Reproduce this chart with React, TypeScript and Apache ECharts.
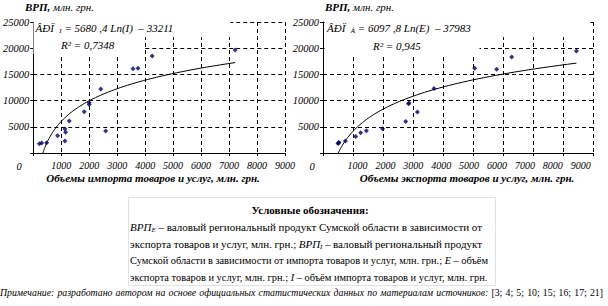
import React, { useEffect, useRef } from "react";
import * as echarts from "echarts";

const SERIF = "Liberation Serif";

// ---- data ----
// Left chart: GRP vs import of goods and services
const importVolume = [220, 302, 480, 872, 1133, 1157, 1133, 1288, 1822, 2000, 2000, 2590, 2413, 3566, 3744, 4253, 7217];
const grpImport = [1775, 1900, 1970, 3300, 4580, 3950, 2290, 6100, 7880, 9600, 9250, 4200, 12210, 16090, 16160, 18510, 19650];
// Right chart: GRP vs export of goods and services
const exportVolume = [500, 523, 530, 745, 1090, 1257, 1445, 1985, 2757, 3147, 2850, 2867, 3700, 5057, 5790, 6290, 8447];
const grpExport = [1800, 1950, 2020, 2280, 3160, 3870, 4250, 4620, 6020, 7810, 9390, 9560, 12300, 16190, 16000, 18340, 19480];

// trend line coefficients as printed on the chart: y = a*Ln(x) + b
const trendImport = { a: 5680.4, b: -33211 };
const trendExport = { a: 6097.8, b: -37983 };

const xTickLabels = [1000, 2000, 3000, 4000, 5000, 6000, 7000, 8000, 9000];
const yMax = 25000;
const yStep = 5000;
const xMax = 9000;
const xStep = 1000;

const yTitleBold = "ВРП,";
const yTitleRest = " млн. грн.";
const xTitleImport = "Объемы импорта товаров и услуг, млн. грн.";
const xTitleExport = "Объемы экспорта товаров и услуг, млн. грн.";
const eqImport = "ÂÐÏ  {sub|I} = 5680 ,4 Ln(I)  – 33211";
const eqExport = "ÂÐÏ  {sub|Å} = 6097 ,8 Ln(E)  – 37983";
const r2Import = "R² = 0,7348";
const r2Export = "R² = 0,945";

const legendTitle = "Условные обозначения:";
const legendLine1 = "{i|ВРП}{sub|E} – валовый региональный продукт Сумской области в зависимости от";
const legendLine2 = "экспорта товаров и услуг, млн. грн.; {i|ВРП}{sub|I} – валовый региональный продукт";
const legendLine3 = "Сумской области в зависимости от импорта товаров и услуг, млн. грн.; {i|E} – объём";
const legendLine4 = "экспорта товаров и услуг, млн. грн.; {i|I} – объём импорта товаров и услуг, млн. грн.";
const noteText = "Примечание: разработано автором на основе официальных статистических данных по материалам источников:";
const noteRefs = "[3; 4; 5; 10; 15; 16; 17; 21]";

// ---- helpers ----
type Base = { fontSize: number; fontStyle?: string; fontWeight?: string };

let measureCtx: CanvasRenderingContext2D | null = null;
function fontStr(s: Base) {
  return `${s.fontStyle || "normal"} ${s.fontWeight || "normal"} ${s.fontSize}px ${SERIF}`;
}
function measure(text: string, s: Base) {
  if (!measureCtx) measureCtx = document.createElement("canvas").getContext("2d");
  measureCtx!.font = fontStr(s);
  return measureCtx!.measureText(text).width;
}
function makeRich(base: Base) {
  const fs = base.fontSize;
  return {
    i: { fontFamily: SERIF, fontSize: fs, fontStyle: "italic", fontWeight: base.fontWeight || "normal", fill: "#000" },
    n: { fontFamily: SERIF, fontSize: fs, fontStyle: "normal", fontWeight: base.fontWeight || "normal", fill: "#000" },
    b: { fontFamily: SERIF, fontSize: fs, fontStyle: "italic", fontWeight: "bold", fill: "#000" },
    sub: {
      fontFamily: SERIF,
      fontSize: Math.round(fs * 0.65),
      fontStyle: "italic",
      fontWeight: "normal",
      fill: "#000",
      padding: [5, 0, 0, 0],
    },
  } as any;
}
function measureRich(text: string, base: Base, rich: any) {
  let w = 0;
  const re = /\{(\w+)\|([^}]*)\}|([^{]+)/g;
  let m: RegExpExecArray | null;
  while ((m = re.exec(text))) {
    if (m[1]) {
      const st = rich[m[1]];
      w += measure(m[2], { fontSize: st.fontSize, fontStyle: st.fontStyle, fontWeight: st.fontWeight });
    } else {
      w += measure(m[3], base);
    }
  }
  return w;
}
function textEl(text: string, x: number, y: number, base: Base, align = "left", z = 60) {
  return {
    type: "text",
    x,
    y,
    z,
    silent: true,
    style: {
      text,
      fontFamily: SERIF,
      fontSize: base.fontSize,
      fontStyle: base.fontStyle || "normal",
      fontWeight: base.fontWeight || "normal",
      fill: "#000",
      align,
      verticalAlign: "middle",
      rich: makeRich(base),
    },
  };
}
// lays words out on one line; justified between x0 and x1 when x1 is given
function lineEls(words: string[], x0: number, x1: number | null, y: number, base: Base) {
  const rich = makeRich(base);
  const widths = words.map((w) => measureRich(w, base, rich));
  const total = widths.reduce((a, b) => a + b, 0);
  const space = measure(" ", base);
  const gap =
    x1 == null || words.length < 2 ? space : Math.max(space * 0.5, (x1 - x0 - total) / (words.length - 1));
  let x = x0;
  return words.map((w, i) => {
    const el = textEl(w, x, y, base);
    x += widths[i] + gap;
    return el;
  });
}
function trendPoints(a: number, b: number, xs: number[]) {
  const x0 = Math.exp(-b / a);
  const x1 = Math.max(...xs);
  const n = 80;
  const pts: number[][] = [];
  for (let k = 0; k <= n; k++) {
    const x = x0 * Math.pow(x1 / x0, k / n);
    pts.push([x, a * Math.log(x) + b]);
  }
  return pts;
}
const zip = (xs: number[], ys: number[]) => xs.map((x, i) => [x, ys[i]]);

function buildOption() {
  const axisFont = { fontFamily: SERIF, fontStyle: "italic" as const, color: "#000" };
  const dashed = { show: true, lineStyle: { color: "#000", width: 1, type: [4, 3] as any } };
  const mkX = (grid: number, showLabel: boolean) => ({
    type: "value",
    gridIndex: grid,
    min: 0,
    max: xMax,
    interval: xStep,
    axisLine: { show: true, onZero: false, lineStyle: { color: "#000", width: 1 } },
    axisTick: { show: true, length: 3, lineStyle: { color: "#000" } },
    axisLabel: {
      show: showLabel,
      ...axisFont,
      fontSize: 10,
      margin: 7,
      formatter: (v: number) => (v === 0 ? "" : String(v)),
    },
    splitLine: dashed,
  });
  const mkY = (grid: number) => ({
    type: "value",
    gridIndex: grid,
    min: 0,
    max: yMax,
    interval: yStep,
    axisLine: { show: true, onZero: false, lineStyle: { color: "#000", width: 1 } },
    axisTick: { show: true, length: 3, lineStyle: { color: "#000" } },
    axisLabel: {
      ...axisFont,
      fontSize: 10.5,
      margin: 4,
      formatter: (v: number) => (v === 0 ? "" : String(v)),
    },
    splitLine: dashed,
  });

  const titleBase: Base = { fontSize: 11, fontStyle: "italic", fontWeight: "bold" };
  const eqBase: Base = { fontSize: 11, fontStyle: "italic" };
  const lgBase: Base = { fontSize: 11 };
  const lgBaseSmall: Base = { fontSize: 10.4 };
  const noteBase: Base = { fontSize: 9.8, fontStyle: "italic" };

  const noteWords = [
    ...noteText.split(" "),
    ...noteRefs.split(" ").map((w) => `{n|${w}}`),
  ];

  const whiteRect = (x: number, y: number, w: number, h: number) => ({
    type: "rect",
    z: 50,
    silent: true,
    shape: { x, y, width: w, height: h },
    style: { fill: "#fff" },
  });

  const graphic: any[] = [
    // label backgrounds of the trend equations
    whiteRect(33.5, 19, 197, 18),
    whiteRect(33.5, 37, 110, 17),
    whiteRect(324.5, 19, 266, 18),
    whiteRect(324.5, 37, 155, 17),
    textEl(eqImport, 35.5, 28, eqBase),
    textEl(r2Import, 61, 45, eqBase),
    textEl(eqExport, 327, 28, eqBase),
    textEl(r2Export, 373, 46, eqBase),
    // axis titles
    textEl(`{b|${yTitleBold}}{i|${yTitleRest}}`, 25, 7, { fontSize: 11, fontStyle: "italic" }),
    textEl(`{b|${yTitleBold}}{i|${yTitleRest}}`, 325, 7, { fontSize: 11, fontStyle: "italic" }),
    textEl(xTitleImport, 153, 178, titleBase, "center"),
    textEl(xTitleExport, 467, 178, titleBase, "center"),
    textEl("0", 19, 166, { fontSize: 10.5, fontStyle: "italic" }, "center"),
    textEl("0", 312, 166, { fontSize: 10.5, fontStyle: "italic" }, "center"),
    // legend box
    {
      type: "rect",
      z: 40,
      silent: true,
      shape: { x: 128.5, y: 197.5, width: 367, height: 88 },
      style: { fill: "none", stroke: "#e2e2e2", lineWidth: 1 },
    },
    textEl(legendTitle, 310, 210, { fontSize: 11, fontWeight: "bold" }, "center"),
    ...lineEls(legendLine1.split(" "), 130, 482, 227, lgBase),
    ...lineEls(legendLine2.split(" "), 130, 482, 244, lgBase),
    ...lineEls(legendLine3.split(" "), 130, 488, 260, lgBaseSmall),
    ...lineEls(legendLine4.split(" "), 130, null, 277, lgBaseSmall),
    ...lineEls(noteWords, 0, 603, 292, noteBase),
  ];

  const scatterStyle = { color: "#000066" };
  return {
    animation: false,
    backgroundColor: "#fff",
    textStyle: { fontFamily: SERIF },
    grid: [
      { left: 32, top: 22, width: 253, height: 131 },
      { left: 323, top: 22, width: 270, height: 131 },
    ],
    xAxis: [
      mkX(0, true),
      mkX(1, false),
      {
        // label-only axis of the right chart (its labels sit slightly off the grid lines)
        type: "value",
        gridIndex: 1,
        position: "bottom",
        min: -237,
        max: 9440,
        axisLine: { show: false },
        axisTick: { show: false },
        splitLine: { show: false },
        axisLabel: {
          ...axisFont,
          fontSize: 10,
          margin: 7,
          customValues: xTickLabels,
          formatter: (v: number) => String(v),
        },
      },
    ],
    yAxis: [mkY(0), mkY(1)],
    series: [
      {
        type: "scatter",
        xAxisIndex: 0,
        yAxisIndex: 0,
        symbol: "diamond",
        symbolSize: 5,
        itemStyle: scatterStyle,
        data: zip(importVolume, grpImport),
        z: 5,
      },
      {
        type: "line",
        xAxisIndex: 0,
        yAxisIndex: 0,
        showSymbol: false,
        symbol: "none",
        lineStyle: { color: "#000", width: 1 },
        data: trendPoints(trendImport.a, trendImport.b, importVolume),
        z: 4,
      },
      {
        type: "scatter",
        xAxisIndex: 1,
        yAxisIndex: 1,
        symbol: "diamond",
        symbolSize: 5,
        itemStyle: scatterStyle,
        data: zip(exportVolume, grpExport),
        z: 5,
      },
      {
        type: "line",
        xAxisIndex: 1,
        yAxisIndex: 1,
        showSymbol: false,
        symbol: "none",
        lineStyle: { color: "#000", width: 1 },
        data: trendPoints(trendExport.a, trendExport.b, exportVolume),
        z: 4,
      },
    ],
    graphic,
  };
}

export default function App() {
  const ref = useRef<HTMLDivElement>(null);
  useEffect(() => {
    document.body.style.margin = "0";
    const chart = echarts.init(ref.current!, null, { renderer: "svg" });
    chart.setOption(buildOption() as any);
    return () => chart.dispose();
  }, []);
  return <div ref={ref} style={{ width: 608, height: 306 }} />;
}
